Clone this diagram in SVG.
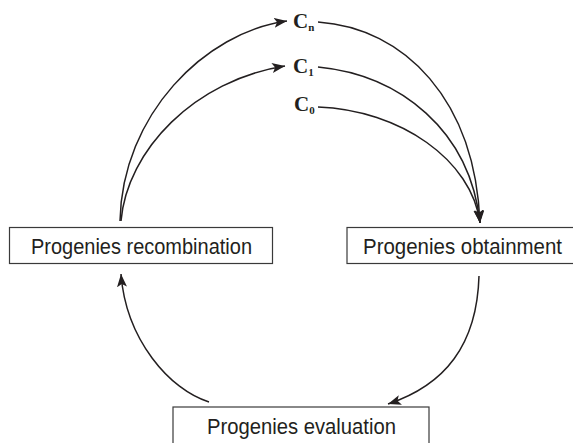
<svg xmlns="http://www.w3.org/2000/svg" width="573" height="443" viewBox="0 0 573 443">
<style>
.box{fill:#fff;stroke:#3a3a3a;stroke-width:1.2}
.lbl{font-family:"Liberation Sans",Arial,sans-serif;font-size:22px;fill:#231f20}
.cl{font-family:"Liberation Serif","Times New Roman",serif;font-weight:bold;font-size:21px;fill:#231f20}
.sub{font-size:11px}
.edge{fill:none;stroke:#231f20;stroke-width:1.5}
</style>
<defs>
<marker id="ah" markerUnits="userSpaceOnUse" markerWidth="14" markerHeight="10" refX="13" refY="5" orient="auto">
<path d="M0,0 L13,5 L0,10 L3,5 z" fill="#231f20"/>
</marker>
</defs>
<rect width="573" height="443" fill="#fff"/>
<g id="connectors">
<path class="edge" marker-end="url(#ah)" d="M120,221 C122,115 205,32 287,21"/>
<path class="edge" marker-end="url(#ah)" d="M121,221 C127,150 195,80 285,66"/>
<path class="edge" marker-end="url(#ah)" d="M318,22 C405,28 475,100 480,223"/>
<path class="edge" marker-end="url(#ah)" d="M318,67 C400,75 470,130 480,223"/>
<path class="edge" marker-end="url(#ah)" d="M318,107 C400,110 472,160 480,223"/>
<path class="edge" marker-end="url(#ah)" d="M479,276 C477,345 445,385 388,404"/>
<path class="edge" marker-end="url(#ah)" d="M209,402 C170,390 126,340 121,274"/>
</g>
<g id="c_n"><text class="cl" x="293" y="28">C<tspan class="sub" dy="3">n</tspan></text></g>
<g id="c_1"><text class="cl" x="293" y="73">C<tspan class="sub" dy="3">1</tspan></text></g>
<g id="c_0"><text class="cl" x="294" y="111">C<tspan class="sub" dy="3">0</tspan></text></g>
<g id="recombination">
<rect class="box" x="9.5" y="227.5" width="263" height="36"/>
<text class="lbl" x="31" y="254" textLength="221" lengthAdjust="spacingAndGlyphs">Progenies recombination</text>
</g>
<g id="obtainment">
<rect class="box" x="347" y="227.5" width="240" height="36"/>
<text class="lbl" x="363" y="254" textLength="199" lengthAdjust="spacingAndGlyphs">Progenies obtainment</text>
</g>
<g id="evaluation">
<rect class="box" x="173" y="407" width="256" height="45"/>
<text class="lbl" x="207" y="434" textLength="189" lengthAdjust="spacingAndGlyphs">Progenies evaluation</text>
</g>
</svg>
